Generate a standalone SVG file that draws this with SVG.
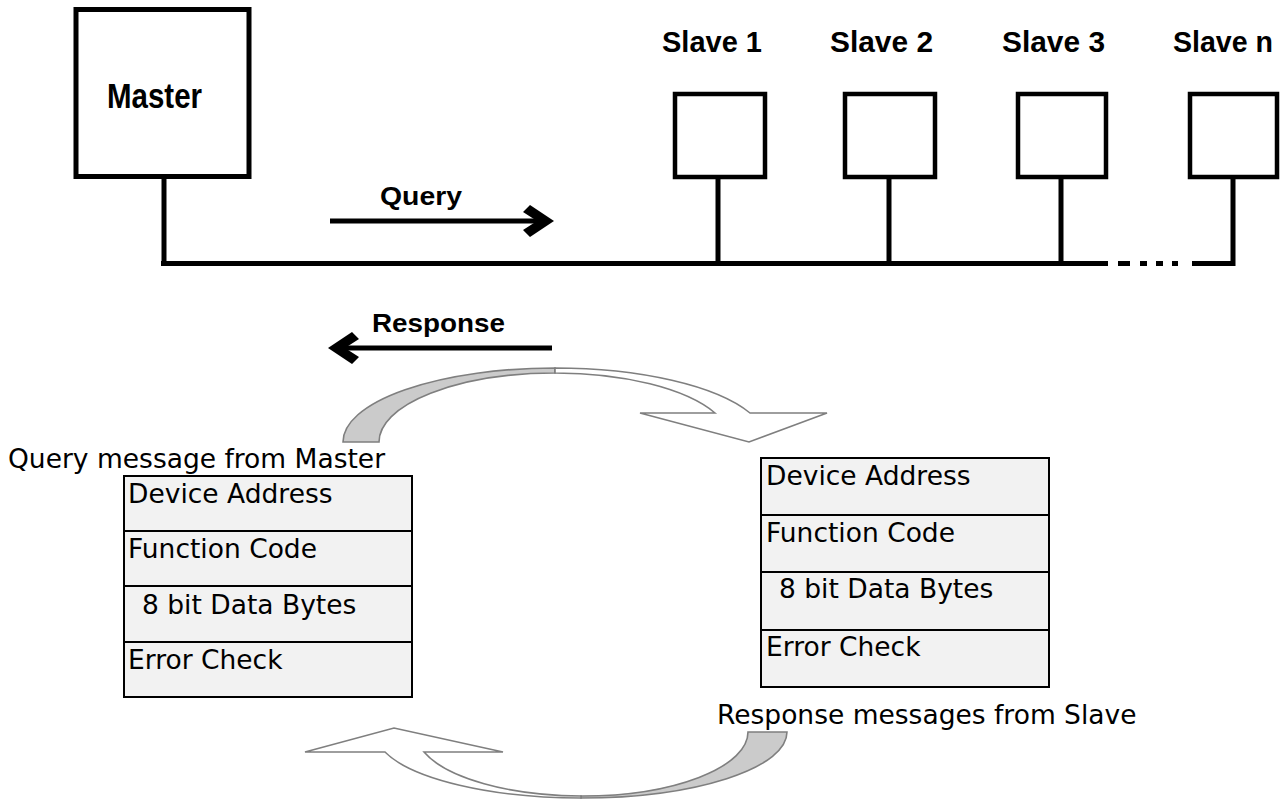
<svg xmlns="http://www.w3.org/2000/svg" width="1285" height="801" viewBox="0 0 1285 801">
<style>
.box{fill:#fff;stroke:#000;stroke-width:4.5}
.wire{stroke:#000;stroke-width:5;fill:none}
.lbl{font-family:"Liberation Sans",Arial,sans-serif;font-weight:bold;fill:#000}
.cell{fill:#f2f2f2;stroke:#000;stroke-width:2}
.txt{font-family:"DejaVu Sans",Verdana,sans-serif;font-size:26.5px;fill:#000}
.shade{fill:#cbcbcb;stroke:#7f7f7f;stroke-width:1.6}
.open{fill:#fff;stroke:#7f7f7f;stroke-width:1.6}
</style>
<rect width="1285" height="801" fill="#fff"/>

<g id="connectors">
  <line class="wire" x1="164" y1="179" x2="164" y2="263.5"/>
  <line class="wire" x1="718" y1="179" x2="718" y2="263.5"/>
  <line class="wire" x1="889" y1="179" x2="889" y2="263.5"/>
  <line class="wire" x1="1061" y1="179" x2="1061" y2="263.5"/>
  <line class="wire" x1="161" y1="263.5" x2="1108" y2="263.5"/>
  <line class="wire" x1="1118" y1="263.5" x2="1130" y2="263.5"/>
  <line class="wire" x1="1140" y1="263.5" x2="1147" y2="263.5"/>
  <line class="wire" x1="1156" y1="263.5" x2="1163" y2="263.5"/>
  <line class="wire" x1="1172" y1="263.5" x2="1178" y2="263.5"/>
  <polyline class="wire" points="1192,263.5 1233,263.5 1233,179"/>
</g>

<g id="master">
  <rect class="box" x="76" y="9.5" width="173" height="167" style="stroke-width:5"/>
  <text class="lbl" x="107" y="108" font-size="35" textLength="95" lengthAdjust="spacingAndGlyphs">Master</text>
</g>
<g id="slave1">
  <rect class="box" x="675" y="94" width="90" height="83"/>
  <text class="lbl" x="662" y="52" font-size="30" textLength="100" lengthAdjust="spacingAndGlyphs">Slave 1</text>
</g>
<g id="slave2">
  <rect class="box" x="845" y="94" width="90" height="83"/>
  <text class="lbl" x="830" y="52" font-size="30" textLength="103" lengthAdjust="spacingAndGlyphs">Slave 2</text>
</g>
<g id="slave3">
  <rect class="box" x="1018" y="94" width="88" height="83"/>
  <text class="lbl" x="1002" y="52" font-size="30" textLength="103" lengthAdjust="spacingAndGlyphs">Slave 3</text>
</g>
<g id="slaven">
  <rect class="box" x="1190" y="94" width="87" height="83"/>
  <text class="lbl" x="1173" y="52" font-size="30" textLength="100" lengthAdjust="spacingAndGlyphs">Slave n</text>
</g>

<g id="query-arrow">
  <line class="wire" x1="330" y1="221" x2="545" y2="221"/>
  <polygon points="554,221 530,205 523,212 537,221 523,230 530,237" fill="#000"/>
  <text class="lbl" x="380" y="205" font-size="25" textLength="82" lengthAdjust="spacingAndGlyphs">Query</text>
</g>
<g id="response-arrow">
  <line class="wire" x1="338" y1="348" x2="552" y2="348"/>
  <polygon points="328,348 352,332 359,339 345,348 359,357 352,364" fill="#000"/>
  <text class="lbl" x="372" y="332" font-size="25" textLength="133" lengthAdjust="spacingAndGlyphs">Response</text>
</g>

<g id="curved-arrow-top">
  <path class="shade" d="M343,442 A212,74 0 0 1 555,368 L555,373 A176,69 0 0 0 379,442 Z"/>
  <path class="open" d="M555,368 A212,74 0 0 1 750,413 L827,413 L749,442 L640,413 L715,413 A176,69 0 0 0 555,373 Z"/>
</g>
<g id="curved-arrow-bottom">
  <path class="shade" d="M787,732 A206,66 0 0 1 581,798 L581,796 A166,64 0 0 0 748,732 Z"/>
  <path class="open" d="M581,798 A206,66 0 0 1 385,752 L305,752 L394,728 L503,752 L424,752 A166,64 0 0 0 581,796 Z"/>
</g>

<g id="query-message">
  <text class="txt" x="8" y="468">Query message from Master</text>
  <rect class="cell" x="124" y="476" width="288" height="55"/>
  <rect class="cell" x="124" y="531" width="288" height="55"/>
  <rect class="cell" x="124" y="586" width="288" height="56"/>
  <rect class="cell" x="124" y="642" width="288" height="55"/>
  <text class="txt" x="128" y="503">Device Address</text>
  <text class="txt" x="128" y="558">Function Code</text>
  <text class="txt" x="142" y="614">8 bit Data Bytes</text>
  <text class="txt" x="128" y="669">Error Check</text>
</g>

<g id="response-message">
  <rect class="cell" x="761" y="458" width="288" height="57"/>
  <rect class="cell" x="761" y="515" width="288" height="57"/>
  <rect class="cell" x="761" y="572" width="288" height="58"/>
  <rect class="cell" x="761" y="630" width="288" height="57"/>
  <text class="txt" x="766" y="485">Device Address</text>
  <text class="txt" x="766" y="542">Function Code</text>
  <text class="txt" x="779" y="598">8 bit Data Bytes</text>
  <text class="txt" x="766" y="656">Error Check</text>
  <text class="txt" x="717" y="724">Response messages from Slave</text>
</g>
</svg>
